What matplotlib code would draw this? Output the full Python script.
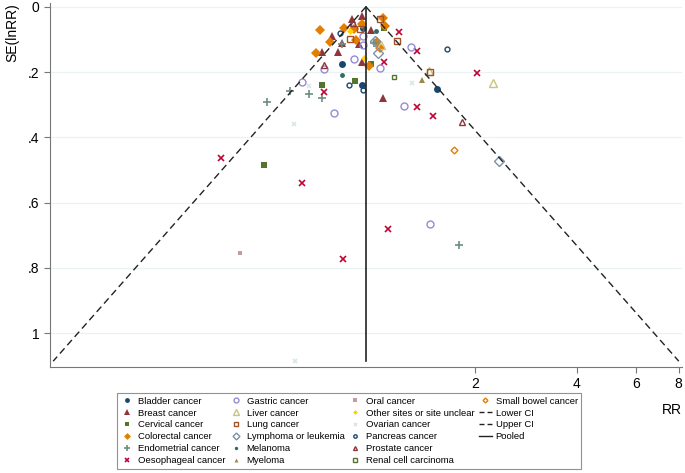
import numpy as np
import matplotlib
matplotlib.use("Agg")
import matplotlib.pyplot as plt
from matplotlib.lines import Line2D

plt.rcParams['font.family'] = ['Liberation Sans', 'DejaVu Sans']

# Datos (RR, SE(lnRR)) por tipo de cancer.
bladder_rr = [0.934, 0.809, 0.927, 1.544]
bladder_se = [0.064, 0.174, 0.239, 0.251]
breast_rr = [0.866, 0.927, 0.756, 0.809, 0.706, 0.788, 0.908, 0.927, 0.986, 1.069]
breast_se = [0.037, 0.028, 0.089, 0.110, 0.138, 0.138, 0.113, 0.168, 0.070, 0.281]
cervical_rr = [0.706, 0.884, 0.986, 1.077, 0.476]
cervical_se = [0.239, 0.229, 0.174, 0.064, 0.486]
colorectal_rr = [0.697, 0.746, 0.678, 0.820, 0.878, 0.927, 0.890, 1.069, 1.084, 1.027, 1.048, 0.972]
colorectal_se = [0.070, 0.107, 0.141, 0.064, 0.067, 0.052, 0.101, 0.034, 0.058, 0.107, 0.125, 0.183]
endometrial_rr = [0.568, 0.486, 0.647, 0.706, 0.809, 1.006, 1.794]
endometrial_se = [0.257, 0.291, 0.266, 0.281, 0.113, 0.110, 0.731]
oesophageal_rr = [0.355, 0.616, 0.716, 1.193, 1.348, 1.077, 2.027, 1.348, 1.503, 1.107, 0.815]
oesophageal_se = [0.462, 0.541, 0.260, 0.076, 0.135, 0.168, 0.202, 0.306, 0.336, 0.682, 0.774]
gastric_rr = [0.616, 0.716, 0.766, 0.878, 0.934, 0.934, 1.048, 1.234, 1.294, 1.473]
gastric_se = [0.232, 0.190, 0.327, 0.159, 0.089, 0.116, 0.187, 0.303, 0.122, 0.667]
liver_rr = [2.260, 1.463, 1.055]
liver_se = [0.235, 0.196, 0.116]
lung_rr = [0.855, 0.915, 1.048, 1.176, 1.473]
lung_se = [0.098, 0.067, 0.037, 0.104, 0.199]
lymphoma_rr = [1.034, 2.354, 1.013]
lymphoma_se = [0.141, 0.474, 0.104]
melanoma_rr = [0.809, 1.020]
melanoma_se = [0.208, 0.073]
myeloma_rr = [1.394]
myeloma_se = [0.223]
oral_rr = [0.404]
oral_se = [0.755]
other_rr = [0.855, 0.940]
other_se = [0.073, 0.156]
ovarian_rr = [0.647, 0.584, 1.303, 0.588]
ovarian_se = [0.242, 0.358, 0.235, 1.086]
pancreas_rr = [0.798, 0.849, 0.934, 1.653]
pancreas_se = [0.080, 0.239, 0.254, 0.128]
prostate_rr = [0.716, 1.831, 0.872]
prostate_se = [0.180, 0.352, 0.049]
renal_rr = [1.153]
renal_se = [0.214]
smallbowel_rr = [1.733]
smallbowel_se = [0.440]

pooled_rr = 0.953
se_max = 1.086

# (etiqueta, rr, se, marcador, color, tamano, relleno)
series = [
    ("Bladder cancer", bladder_rr, bladder_se, 'o', '#1a476f', 5, True),
    ("Breast cancer", breast_rr, breast_se, '^', '#90353b', 5.5, True),
    ("Cervical cancer", cervical_rr, cervical_se, 's', '#55752f', 5, True),
    ("Colorectal cancer", colorectal_rr, colorectal_se, 'D', '#e37e00', 5, True),
    ("Endometrial cancer", endometrial_rr, endometrial_se, '+', '#6e8e84', 6, True),
    ("Oesophageal cancer", oesophageal_rr, oesophageal_se, 'x', '#c10534', 4, True),
    ("Gastric cancer", gastric_rr, gastric_se, 'o', '#938dd2', 5, False),
    ("Liver cancer", liver_rr, liver_se, '^', '#cac27e', 5.5, False),
    ("Lung cancer", lung_rr, lung_se, 's', '#a0522d', 5, False),
    ("Lymphoma or leukemia", lymphoma_rr, lymphoma_se, 'D', '#7b92a8', 5, False),
    ("Melanoma", melanoma_rr, melanoma_se, 'o', '#2d6d66', 3.5, True),
    ("Myeloma", myeloma_rr, myeloma_se, '^', '#9c8847', 4, True),
    ("Oral cancer", oral_rr, oral_se, 's', '#bfa19c', 3.5, True),
    ("Other sites or site unclear", other_rr, other_se, 'D', '#ffd200', 3.5, True),
    ("Ovarian cancer", ovarian_rr, ovarian_se, 'x', '#d9e6eb', 3, True),
    ("Pancreas cancer", pancreas_rr, pancreas_se, 'o', '#1a476f', 3.5, False),
    ("Prostate cancer", prostate_rr, prostate_se, '^', '#90353b', 4, False),
    ("Renal cell carcinoma", renal_rr, renal_se, 's', '#55752f', 3.5, False),
    ("Small bowel cancer", smallbowel_rr, smallbowel_se, 'D', '#e37e00', 3.5, False),
]

fig = plt.figure(figsize=(6.85, 4.73), dpi=100)
ax = fig.add_axes([0.073, 0.224, 0.923, 0.77])

handles = []
for label, rr, se, mk, col, ms, filled in series:
    if mk in ('+', 'x'):
        h, = ax.plot(rr, se, linestyle='None', marker=mk, color=col, markersize=ms,
                     markeredgewidth=1.2, label=label)
    elif filled:
        h, = ax.plot(rr, se, linestyle='None', marker=mk, color=col, markersize=ms,
                     markeredgewidth=0, label=label)
    else:
        h, = ax.plot(rr, se, linestyle='None', marker=mk, markerfacecolor='none',
                     markeredgecolor=col, markersize=ms, markeredgewidth=1.0, label=label)
    handles.append(h)

# Embudo: limites 95% alrededor del efecto combinado.
se_line = np.array([0, se_max])
lower = np.exp(np.log(pooled_rr) - 1.96 * se_line)
upper = np.exp(np.log(pooled_rr) + 1.96 * se_line)
ax.plot(lower, se_line, color='#222222', lw=1.0, dashes=(5, 3))
ax.plot(upper, se_line, color='#222222', lw=1.0, dashes=(5, 3))
ax.plot([pooled_rr, pooled_rr], se_line, color='#222222', lw=1.2)

ax.set_xscale('log')
ax.set_xlim(0.111, 8.2)
ax.set_ylim(1.104, -0.012)
ax.set_xticks([2, 4, 6, 8])
ax.set_xticklabels(['2', '4', '6', '8'])
ax.xaxis.set_minor_locator(matplotlib.ticker.NullLocator())
ax.set_yticks([0, 0.2, 0.4, 0.6, 0.8, 1])
ax.set_yticklabels(['0', '.2', '.4', '.6', '.8', '1'])
ax.yaxis.grid(True, color='#eaf2f3', lw=0.9)
ax.set_axisbelow(True)
for s in ['top', 'right']:
    ax.spines[s].set_visible(False)
for s in ['left', 'bottom']:
    ax.spines[s].set_color('#777777')
ax.tick_params(colors='#777777', labelcolor='black', labelsize=10, length=4)
ax.set_ylabel('SE(lnRR)', loc='top', fontsize=10, labelpad=6)
ax.set_xlabel('RR', loc='right', fontsize=10, labelpad=8)

# Manejadores de la leyenda para las lineas (guiones mas cortos).
h_low = Line2D([], [], color='#222222', lw=1.0, dashes=(3.6, 2.2))
h_up = Line2D([], [], color='#222222', lw=1.0, dashes=(3.6, 2.2))
h_pool = Line2D([], [], color='#222222', lw=1.0)
blank = Line2D([], [], linestyle='None')
leg_handles = handles + [h_low, h_up, h_pool, blank, blank]
leg_labels = [s[0] for s in series] + ['Lower CI', 'Upper CI', 'Pooled', '', '']
leg = fig.legend(leg_handles, leg_labels, ncol=4, loc='upper left',
                 bbox_to_anchor=(117 / 685, 1 - 393 / 473), borderaxespad=0,
                 fontsize=6.8, frameon=True, fancybox=False, handlelength=1.4,
                 handletextpad=0.4, columnspacing=0.45, labelspacing=0.3,
                 borderpad=0.4, markerscale=0.7)
leg.get_frame().set_edgecolor('#777777')
leg.get_frame().set_linewidth(0.8)

fig.savefig('out.png', dpi=100)
